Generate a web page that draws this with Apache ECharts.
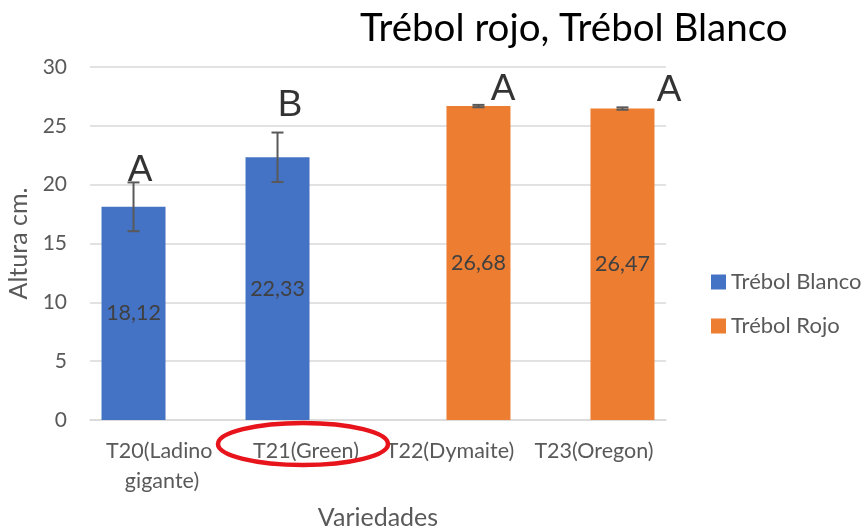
<!DOCTYPE html>
<html>
<head>
<meta charset="utf-8">
<script src="https://cdn.jsdelivr.net/npm/echarts@6/dist/echarts.min.js"></script>
<style>
html,body{margin:0;padding:0;background:#fff;}
#c{width:862px;height:531px;}
</style>
</head>
<body>
<div id="c"></div>
<script>
const categories = ['T20(Ladino gigante)', 'T21(Green)', 'T22(Dymaite)', 'T23(Oregon)'];
const blanco = [18.12, 22.33, null, null];
const rojo = [null, null, 26.68, 26.47];
const errors = [2.07, 2.1, 0.1, 0.1];
const letters = ['A', 'B', 'A', 'A'];
const yTicks = [0, 5, 10, 15, 20, 25, 30];

const FONT = 'Lato, "Open Sans", sans-serif';
const BAR_W = 64;
const GAP = -0.11;
const half = (BAR_W * 2 + BAR_W * GAP) / 2 - BAR_W / 2;

const means = categories.map((c, i) => blanco[i] != null ? blanco[i] : rojo[i]);
const sideOf = categories.map((c, i) => blanco[i] != null ? -1 : 1);

const letterOffsets = [[-22, -12], [-16, -27], [53, -15], [75, -17]];

const chart = echarts.init(document.getElementById('c'));
chart.setOption({
  animation: false,
  title: {
    text: 'Trébol rojo, Trébol Blanco',
    left: 355, top: 4,
    textStyle: { fontFamily: FONT, fontSize: 38.5, fontWeight: 'normal', color: '#000' }
  },
  legend: {
    orient: 'vertical',
    left: 706, top: 266,
    itemWidth: 15, itemHeight: 15, itemGap: 22,
    icon: 'rect',
    textStyle: { fontFamily: FONT, fontSize: 22, color: '#595959' },
    data: ['Trébol Blanco', 'Trébol Rojo']
  },
  grid: { left: 90, right: 196, top: 67, bottom: 111, outerBoundsMode: 'none', containLabel: false },
  xAxis: {
    type: 'category',
    data: categories,
    name: 'Variedades',
    nameLocation: 'middle',
    nameGap: 85,
    nameTextStyle: { fontFamily: FONT, fontSize: 25, color: '#595959' },
    axisLine: { lineStyle: { color: '#d9d9d9', width: 1.5 } },
    axisTick: { show: false },
    axisLabel: {
      fontFamily: FONT, fontSize: 21.5, color: '#595959',
      margin: 16, lineHeight: 30, interval: 0,
      width: 130, overflow: 'break'
    }
  },
  yAxis: {
    type: 'value',
    min: yTicks[0], max: yTicks[yTicks.length - 1], interval: 5,
    name: 'Altura cm.',
    nameLocation: 'middle',
    nameGap: 56,
    nameTextStyle: { fontFamily: FONT, fontSize: 25, color: '#595959' },
    axisLine: { show: false },
    axisTick: { show: false },
    axisLabel: { fontFamily: FONT, fontSize: 21, color: '#595959', margin: 23 },
    splitLine: { lineStyle: { color: '#d9d9d9', width: 1.5 } }
  },
  series: [
    {
      name: 'Trébol Blanco', type: 'bar', data: blanco,
      barWidth: BAR_W, barGap: (GAP * 100) + '%',
      itemStyle: { color: '#4472C4' },
      label: { show: true, position: 'inside', fontFamily: FONT, fontSize: 21.5, color: '#404040',
        formatter: p => p.value.toFixed(2).replace('.', ',') }
    },
    {
      name: 'Trébol Rojo', type: 'bar', data: rojo,
      barWidth: BAR_W, barGap: (GAP * 100) + '%',
      itemStyle: { color: '#ED7D31' },
      label: { show: true, position: 'inside', fontFamily: FONT, fontSize: 21.5, color: '#404040',
        formatter: p => p.value.toFixed(2).replace('.', ',') }
    },
    {
      type: 'custom', name: 'err',
      data: means.map((m, i) => [i, m - errors[i], m + errors[i], sideOf[i]]),
      z: 10,
      renderItem: function (params, api) {
        const lo = api.coord([api.value(0), api.value(1)]);
        const hi = api.coord([api.value(0), api.value(2)]);
        const x = lo[0] + api.value(3) * half;
        const cw = 6;
        const st = { stroke: '#595959', lineWidth: 2 };
        return { type: 'group', children: [
          { type: 'line', shape: { x1: x, y1: lo[1], x2: x, y2: hi[1] }, style: st },
          { type: 'line', shape: { x1: x - cw, y1: lo[1], x2: x + cw, y2: lo[1] }, style: st },
          { type: 'line', shape: { x1: x - cw, y1: hi[1], x2: x + cw, y2: hi[1] }, style: st }
        ]};
      }
    },
    {
      type: 'scatter', name: 'letters', symbolSize: 0, z: 11,
      data: means.map((m, i) => ({
        value: [i, m + errors[i]],
        label: { show: true, formatter: letters[i], offset: letterOffsets[i] }
      })),
      label: { position: 'inside', fontFamily: 'Liberation Sans, Arial, sans-serif', fontSize: 37, color: '#000' }
    }
  ],
  graphic: [
    {
      type: 'ellipse',
      shape: { cx: 303, cy: 444, rx: 85, ry: 21 },
      style: { fill: 'none', stroke: '#E8141B', lineWidth: 4.5 },
      z: 100
    }
  ]
});
</script>
</body>
</html>
